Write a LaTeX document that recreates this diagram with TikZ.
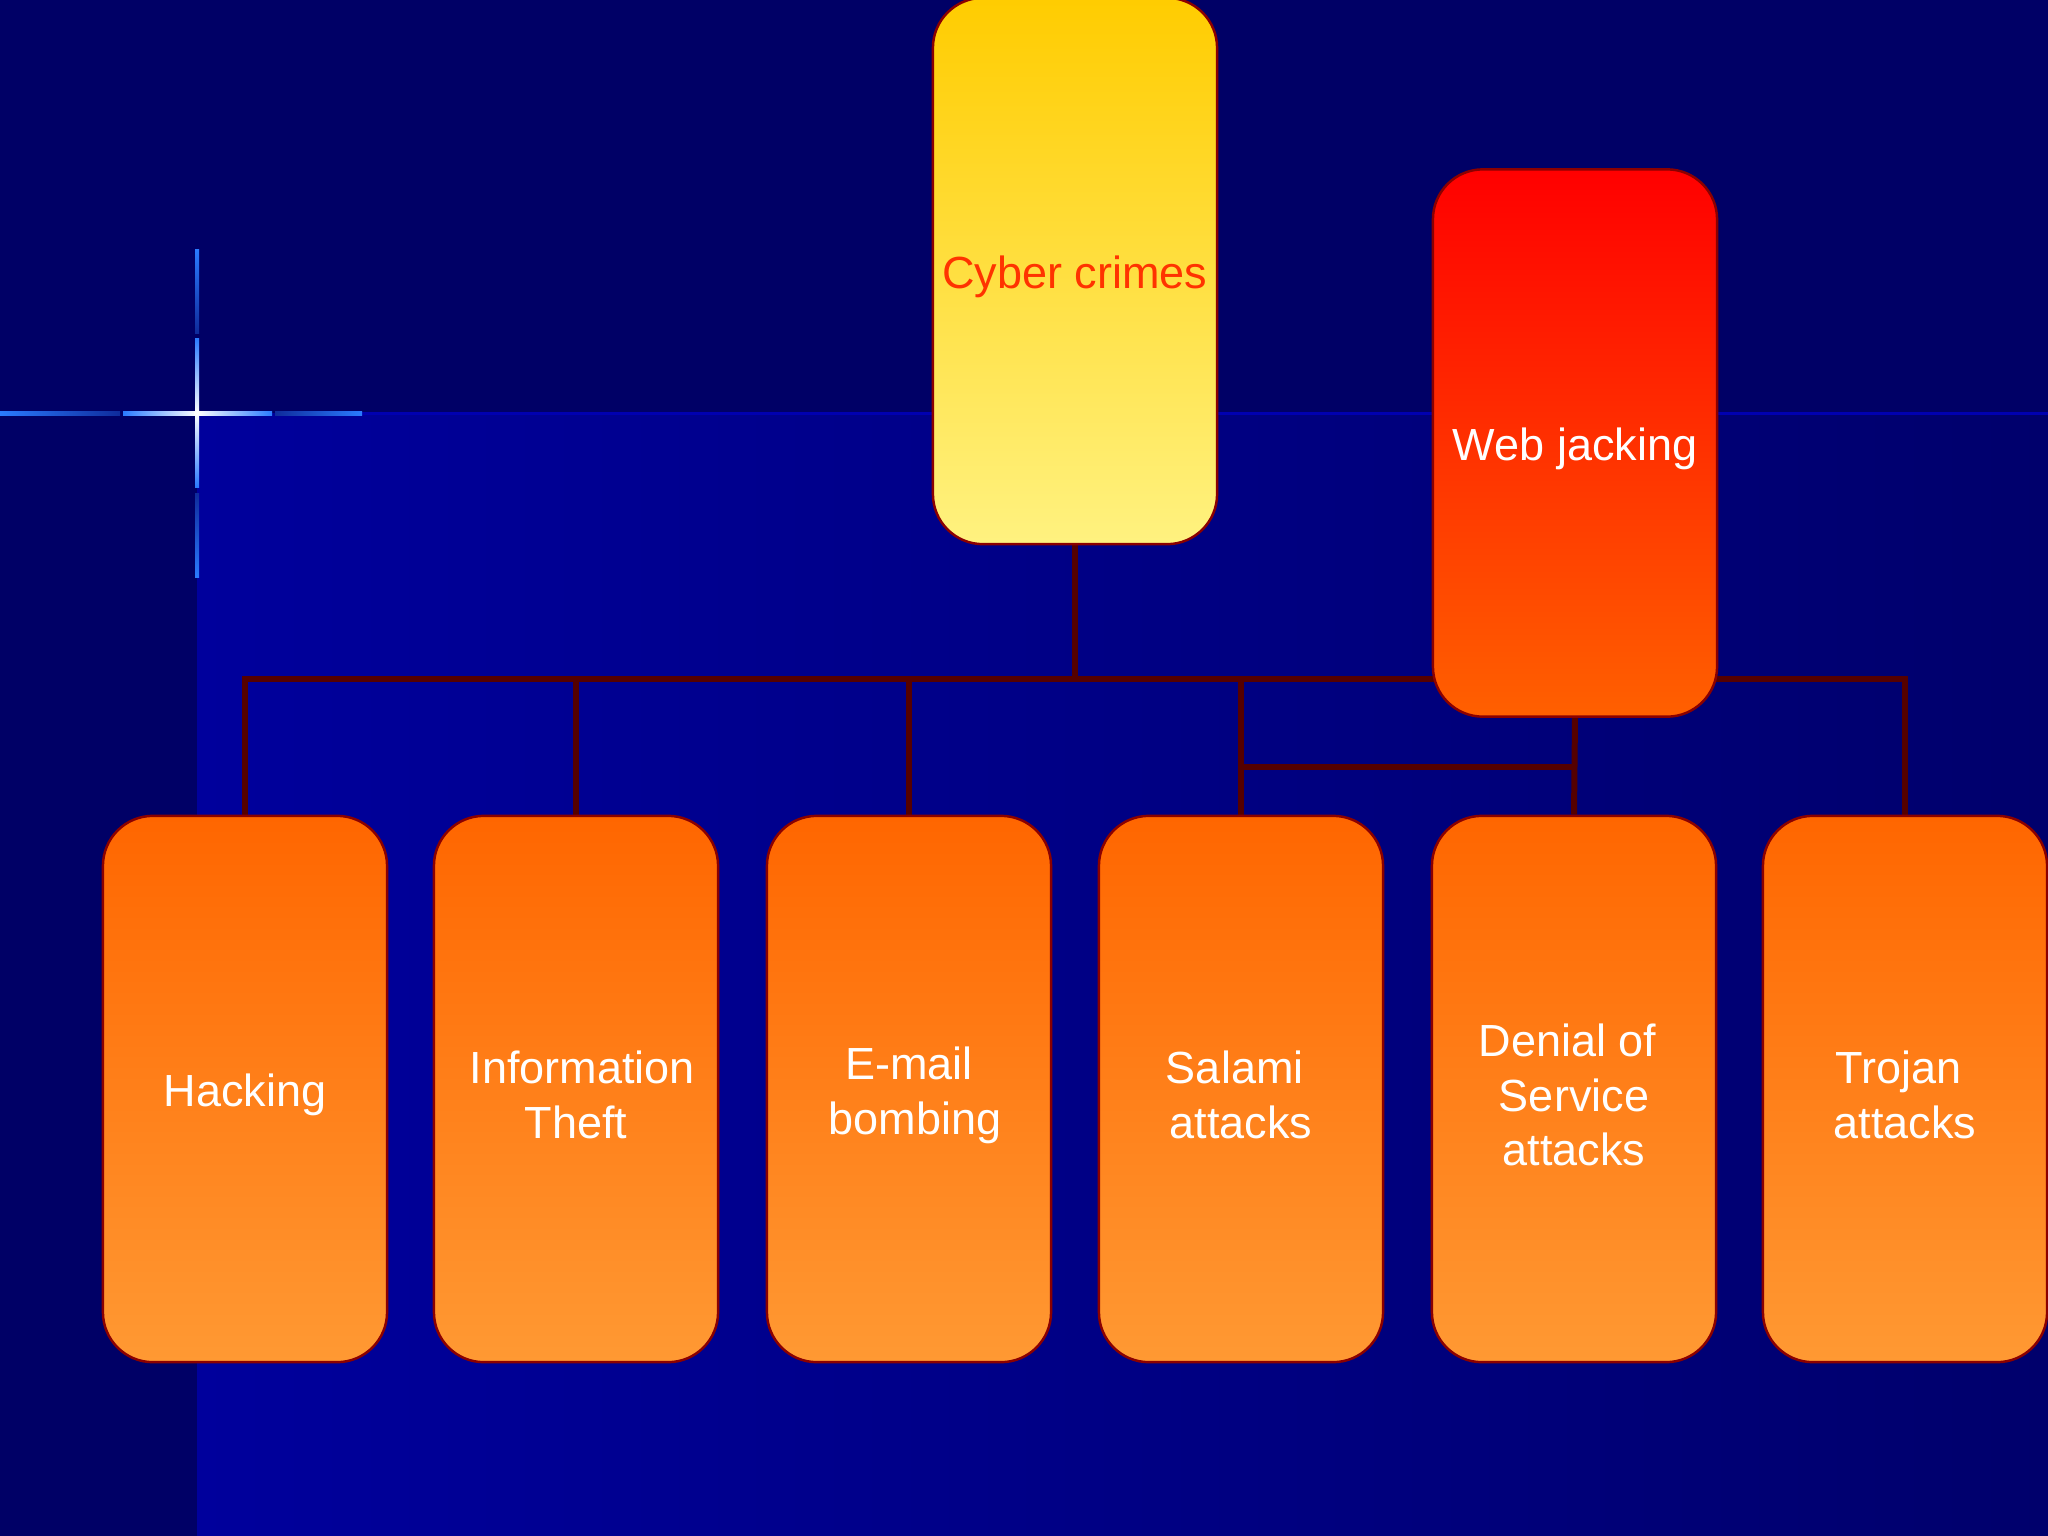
\documentclass[tikz,border=0pt]{standalone}
\usepackage{fontspec}
\setmainfont{Liberation Sans}
\definecolor{navyA}{HTML}{000066}
\definecolor{blueMain}{HTML}{00009C}
\definecolor{blueRight}{HTML}{00006C}
\definecolor{seam}{HTML}{0000B0}
\definecolor{connc}{HTML}{550000}
\definecolor{edgec}{HTML}{8B0000}
\definecolor{orTop}{HTML}{FF6600}
\definecolor{orBot}{HTML}{FF9933}
\definecolor{yeTop}{HTML}{FFCC00}
\definecolor{yeBot}{HTML}{FFF280}
\definecolor{reTop}{HTML}{FF0000}
\definecolor{reBot}{HTML}{FF6000}
\definecolor{ccText}{HTML}{FF3300}
\definecolor{spark}{HTML}{2A7BFF}
\pgfdeclarelayer{bg}
\pgfdeclarelayer{lines}
\pgfsetlayers{bg,lines,main}
\newcommand{\padsp}{\hspace*{0.278em}}
\tikzset{
  boxbase/.style={draw=edgec, line width=0.7pt, rounded corners=0.5cm,
    minimum width=2.84cm, minimum height=5.46cm, inner sep=0pt},
  txt/.style={align=center, inner sep=0pt, yshift=-1.7pt,
    font=\fontsize{12.8}{15.6}\selectfont, text=white},
  leafbox/.style={boxbase, top color=orTop, bottom color=orBot},
  rootbox/.style={boxbase, top color=yeTop, bottom color=yeBot},
  webbox/.style={boxbase, top color=reTop, bottom color=reBot},
  conn/.style={draw=connc, line width=1.7pt},
}
\begin{document}
\begin{tikzpicture}[x=0.01cm, y=-0.01cm]
\useasboundingbox (0,0) rectangle (2048,1536);

% nodes
\node[rootbox, label={[txt, text=ccText]center:Cyber crimes}] (cc) at (1075,271) {};
\node[webbox, minimum height=5.47cm, label={[txt]center:Web jacking}] (wj) at (1575,443) {};
\node[leafbox, label={[txt]center:Hacking}] (hack) at (245,1089) {};
\node[leafbox, label={[txt]center:{\padsp Information\\Theft}}] (info) at (576,1089) {};
\node[leafbox, label={[txt]center:{E-mail\\\padsp bombing}}] (mail) at (909,1089) {};
\node[leafbox, label={[txt]center:{Salami\padsp\\attacks}}] (sal) at (1241,1089) {};
\node[leafbox, label={[txt]center:{Denial of\padsp\\Service\padsp\\attacks}}] (den) at (1574,1089) {};
\node[leafbox, label={[txt]center:{Trojan\padsp\\attacks}}] (troj) at (1905,1089) {};
\coordinate (bus) at (1075,679);
\coordinate (j) at (1400,767);

% background
\begin{pgfonlayer}{bg}
  \fill[navyA] (0,0) rectangle (2048,1536);
  \fill[left color=blueMain, right color=blueRight] (197,413) rectangle (2048,1536);
  \fill[seam] (362,411.5) rectangle (2048,414.5);
  % sparkle horizontal
  \fill[left color=spark, right color=spark!35!navyA] (0,411) rectangle (120,415);
  \fill[left color=spark, right color=white] (123,411) rectangle (197,415);
  \fill[left color=white, right color=spark] (197,411) rectangle (272,415);
  \fill[left color=spark!35!navyA, right color=spark] (275,411) rectangle (362,415);
  % sparkle vertical
  \fill[top color=spark, bottom color=spark!35!navyA] (195,249) rectangle (199,333);
  \fill[top color=spark, bottom color=white] (195,338) rectangle (199,413);
  \fill[top color=white, bottom color=spark] (195,413) rectangle (199,487);
  \fill[top color=spark!35!navyA, bottom color=spark] (195,493) rectangle (199,577);
  \fill[white] (197,413) circle (3);
\end{pgfonlayer}

% connectors
\begin{pgfonlayer}{lines}
  \draw[conn] (cc.south) -- (cc.south |- bus);
  \draw[conn] (hack.north) -- (hack.north |- bus) -- (troj.north |- bus) -- (troj.north);
  \draw[conn] (info.north) -- (info.north |- bus);
  \draw[conn] (mail.north) -- (mail.north |- bus);
  \draw[conn] (sal.north) -- (sal.north |- bus);
  \draw[conn] (wj.south) -- (den.north);
  \draw[conn] (sal.north |- j) -- (den.north |- j);
\end{pgfonlayer}
\end{tikzpicture}
\end{document}
